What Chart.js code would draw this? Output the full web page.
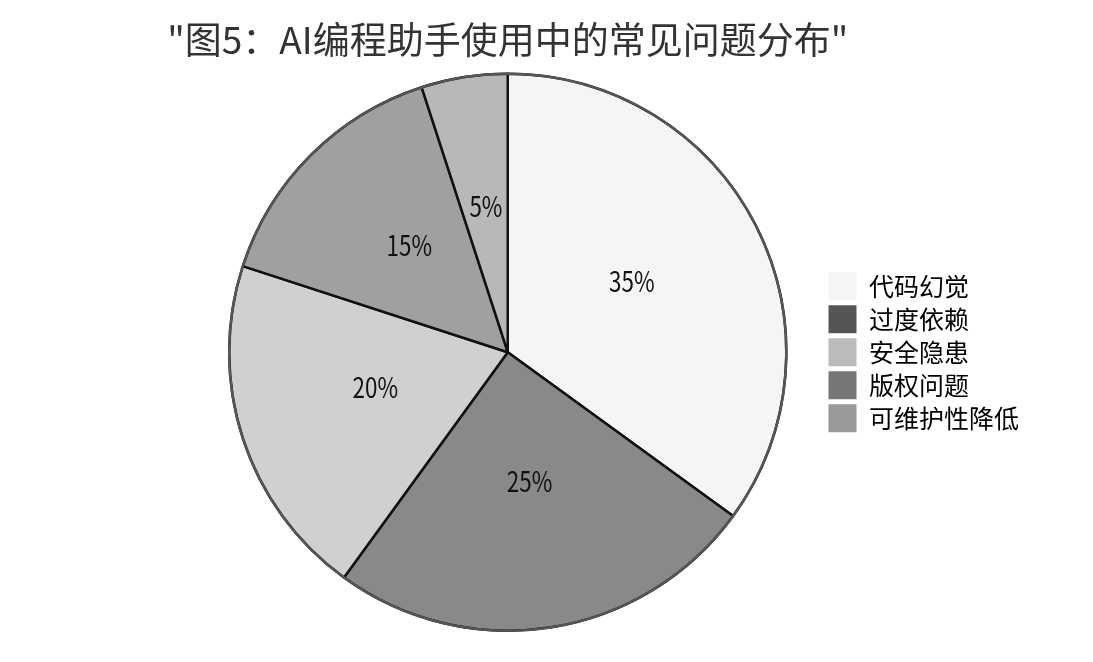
<!DOCTYPE html>
<html lang="zh">
<head>
    <meta charset="UTF-8">
    <title>AI编程助手使用中的常见问题分布</title>
    <script src="https://cdn.jsdelivr.net/npm/chart.js"></script>
    <style>
        html, body { margin: 0; padding: 0; background: #fff; }
        .chart-box { width: 1093px; height: 662px; }
    </style>
</head>
<body>
    <div class="chart-box">
        <canvas id="issuesChart"></canvas>
    </div>

    <script>
        // 数据
        const categories = ['代码幻觉', '过度依赖', '安全隐患', '版权问题', '可维护性降低'];
        const shares = [35, 25, 20, 15, 5];

        // 颜色（扇区与图例颜色不一样）
        const sliceColors = ['#f5f5f5', '#898989', '#d0d0d0', '#a0a0a0', '#b8b8b8'];
        const legendColors = ['#f5f5f5', '#555555', '#bbbbbb', '#777777', '#999999'];

        Chart.defaults.font.family = "'Noto Sans CJK SC', 'Noto Sans', sans-serif";

        // 标题只居中在饼图上方，但不能被压窄
        const wideTitle = {
            id: 'wideTitle',
            afterLayout(chart) {
                const t = chart.titleBlock;
                if (!t) return;
                const mid = (t.left + t.right) / 2;
                t.left = mid - 380;
                t.right = mid + 380;
                t.width = 760;
            }
        };

        // 扇区中的百分比 + 灰色外圈
        const piePercent = {
            id: 'piePercent',
            afterDatasetsDraw(chart) {
                const ctx = chart.ctx;
                const meta = chart.getDatasetMeta(0);
                const first = meta.data[0];
                ctx.save();
                ctx.beginPath();
                ctx.arc(first.x, first.y, first.outerRadius, 0, Math.PI * 2);
                ctx.strokeStyle = '#555555';
                ctx.lineWidth = 2.5;
                ctx.stroke();

                ctx.font = "28px 'Noto Sans CJK SC', sans-serif";
                ctx.fillStyle = '#111';
                ctx.textAlign = 'center';
                ctx.textBaseline = 'middle';
                meta.data.forEach((arc, i) => {
                    const p = arc.tooltipPosition();
                    // 字体偏窄，横向压一点
                    ctx.save();
                    ctx.translate(p.x, p.y - 8);
                    ctx.scale(0.8, 1);
                    ctx.fillText(shares[i] + '%', 0, 0);
                    ctx.restore();
                });
                ctx.restore();
            }
        };

        new Chart(document.getElementById('issuesChart'), {
            type: 'pie',
            data: {
                labels: categories,
                datasets: [{
                    data: shares,
                    backgroundColor: sliceColors,
                    borderColor: '#111111',
                    borderWidth: 2.5
                }]
            },
            options: {
                responsive: true,
                maintainAspectRatio: false,
                animation: false,
                layout: {
                    padding: { left: 192, right: 64, top: 0, bottom: 30 }
                },
                plugins: {
                    title: {
                        display: true,
                        fullSize: false,
                        text: '"图5：AI编程助手使用中的常见问题分布"',
                        color: '#333',
                        font: { size: 37, weight: 'normal' },
                        padding: { top: 18, bottom: 10 }
                    },
                    legend: {
                        position: 'right',
                        align: 'center',
                        fullSize: false,
                        labels: {
                            color: '#333',
                            font: { size: 25 },
                            boxWidth: 28,
                            boxHeight: 28,
                            padding: 5,
                            generateLabels(chart) {
                                return chart.data.labels.map((label, i) => ({
                                    text: label,
                                    fillStyle: legendColors[i],
                                    strokeStyle: legendColors[i],
                                    lineWidth: 0,
                                    index: i
                                }));
                            }
                        }
                    },
                    tooltip: { enabled: false }
                }
            },
            plugins: [wideTitle, piePercent]
        });
    </script>
</body>
</html>
